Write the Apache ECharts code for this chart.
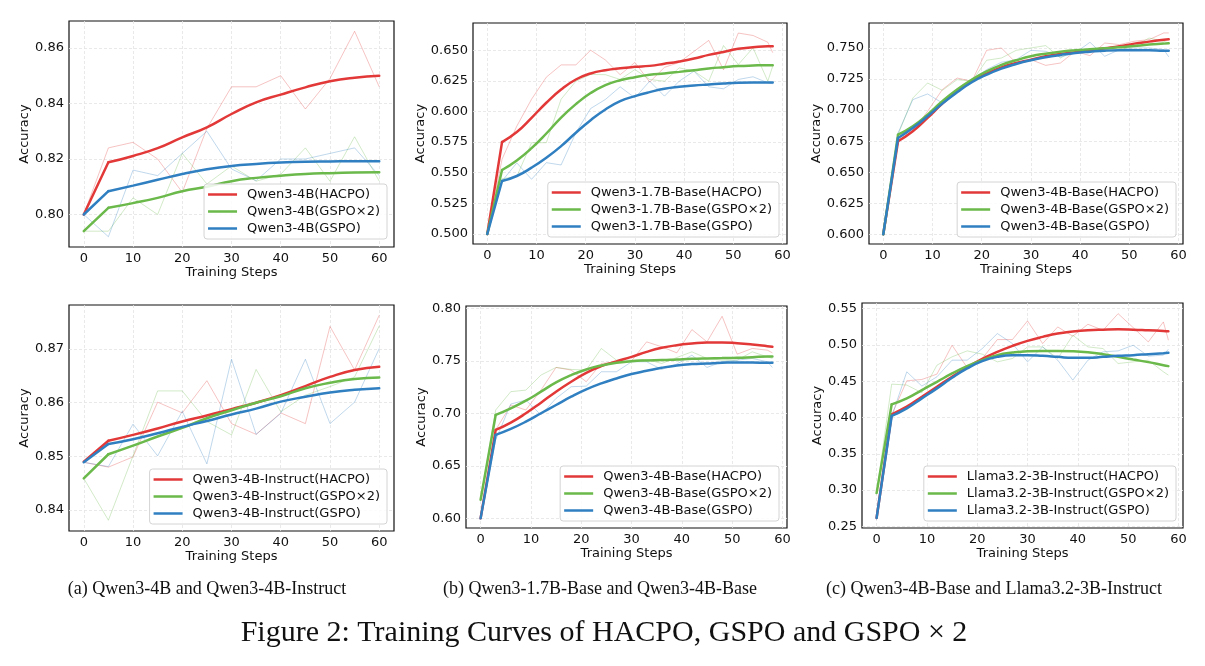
<!DOCTYPE html>
<html>
<head>
<meta charset="utf-8">
<script src="https://cdn.jsdelivr.net/npm/echarts@6/dist/echarts.min.js"></script>
<style>
  html, body { margin: 0; background: #fff; }
  #chart { width: 1205px; height: 666px; }
</style>
</head>
<body>
<div id="chart"></div>
<script>
// ---- x steps ----
const stepsBy5 = [0, 5, 10, 15, 20, 25, 30, 35, 40, 45, 50, 55, 60];
const stepsBy3 = [0, 3, 6, 9, 12, 15, 18, 21, 24, 27, 30, 33, 36, 39, 42, 45, 48, 51, 54, 57, 58];
const xTicks = [0, 10, 20, 30, 40, 50, 60];

// ---- (a) top: Qwen3-4B ----
const a1HacpoRaw = [0.800, 0.824, 0.826, 0.820, 0.808, 0.831, 0.846, 0.846, 0.850, 0.838, 0.849, 0.866, 0.846];
const a1HacpoSmooth = [0.800, 0.8188, 0.8211, 0.8239, 0.8278, 0.8314, 0.8362, 0.8404, 0.8432, 0.8458, 0.8480, 0.8493, 0.8500];
const a1Gspo2Raw = [0.794, 0.794, 0.806, 0.800, 0.822, 0.811, 0.8175, 0.812, 0.8145, 0.824, 0.812, 0.828, 0.812];
const a1Gspo2Smooth = [0.794, 0.8024, 0.8041, 0.8060, 0.8084, 0.8100, 0.8120, 0.8132, 0.8140, 0.8146, 0.8149, 0.8151, 0.8152];
const a1GspoRaw = [0.800, 0.792, 0.816, 0.814, 0.822, 0.830, 0.8164, 0.8122, 0.820, 0.820, 0.822, 0.824, 0.814];
const a1GspoSmooth = [0.800, 0.8084, 0.8104, 0.8125, 0.8146, 0.8163, 0.8175, 0.8182, 0.8187, 0.8190, 0.8191, 0.8192, 0.8192];
const a1YTicks = [0.80, 0.82, 0.84, 0.86];

// ---- (b) top: Qwen3-1.7B-Base ----
const b1HacpoRaw = [0.500, 0.561, 0.588, 0.610, 0.628, 0.638, 0.638, 0.650, 0.642, 0.630, 0.640, 0.624, 0.636, 0.640, 0.649, 0.658, 0.634, 0.664, 0.662, 0.6565, 0.648];
const b1HacpoSmooth = [0.500, 0.575, 0.5832, 0.5948, 0.6071, 0.6179, 0.6261, 0.631, 0.6337, 0.6353, 0.6364, 0.6372, 0.6389, 0.6408, 0.6432, 0.6462, 0.6486, 0.6511, 0.6524, 0.6533, 0.6533];
const b1Gspo2Raw = [0.500, 0.545, 0.547, 0.5745, 0.5745, 0.610, 0.6247, 0.6302, 0.630, 0.6261, 0.6342, 0.6261, 0.6247, 0.6356, 0.6329, 0.6247, 0.6538, 0.6383, 0.6519, 0.6247, 0.637];
const b1Gspo2Smooth = [0.500, 0.5522, 0.5600, 0.5700, 0.5820, 0.5950, 0.6060, 0.6150, 0.6215, 0.6255, 0.6280, 0.6299, 0.6310, 0.6323, 0.6337, 0.6351, 0.6361, 0.6370, 0.6375, 0.6378, 0.6378];
const b1GspoRaw = [0.500, 0.5432, 0.558, 0.5446, 0.5582, 0.5563, 0.5826, 0.6024, 0.6098, 0.6201, 0.6111, 0.6247, 0.6125, 0.6247, 0.6329, 0.6201, 0.6185, 0.6261, 0.6283, 0.6234, 0.6226];
const b1GspoSmooth = [0.500, 0.5432, 0.5473, 0.5541, 0.5622, 0.5717, 0.5826, 0.5929, 0.6016, 0.6084, 0.6125, 0.6158, 0.6185, 0.6201, 0.6212, 0.6220, 0.6228, 0.6234, 0.6236, 0.6236, 0.6236];
const b1YTicks = [0.500, 0.525, 0.550, 0.575, 0.600, 0.625, 0.650];

// ---- (c) top: Qwen3-4B-Base ----
const c1HacpoRaw = [0.600, 0.6754, 0.6829, 0.699, 0.7165, 0.7258, 0.7232, 0.7481, 0.750, 0.7379, 0.7406, 0.736, 0.7379, 0.7473, 0.7438, 0.754, 0.7527, 0.7554, 0.7567, 0.7621, 0.7621];
const c1HacpoSmooth = [0.600, 0.6749, 0.6829, 0.6937, 0.7052, 0.7151, 0.7232, 0.7293, 0.7344, 0.7379, 0.7406, 0.7433, 0.7452, 0.7465, 0.7481, 0.7497, 0.7513, 0.7535, 0.7551, 0.7567, 0.757];
const c1Gspo2Raw = [0.600, 0.6802, 0.7097, 0.7218, 0.7159, 0.7245, 0.7232, 0.7401, 0.7419, 0.7481, 0.750, 0.7519, 0.7419, 0.7487, 0.7487, 0.7487, 0.7487, 0.7513, 0.758, 0.7554, 0.754];
const c1Gspo2Smooth = [0.600, 0.6802, 0.6869, 0.6963, 0.7071, 0.7165, 0.7245, 0.7312, 0.7363, 0.7401, 0.7433, 0.7454, 0.747, 0.7481, 0.7489, 0.7497, 0.7505, 0.7516, 0.7527, 0.7535, 0.7538];
const c1GspoRaw = [0.600, 0.6816, 0.7084, 0.713, 0.7057, 0.7165, 0.7245, 0.7326, 0.7385, 0.7406, 0.7481, 0.7473, 0.7428, 0.746, 0.7546, 0.7433, 0.7487, 0.750, 0.750, 0.7487, 0.7428];
const c1GspoSmooth = [0.600, 0.6775, 0.6856, 0.695, 0.7052, 0.7143, 0.7224, 0.7285, 0.7334, 0.7371, 0.7401, 0.7425, 0.7444, 0.746, 0.747, 0.7478, 0.7481, 0.7481, 0.7481, 0.7478, 0.7478];
const c1YTicks = [0.600, 0.625, 0.650, 0.675, 0.700, 0.725, 0.750];

// ---- (a) bottom: Qwen3-4B-Instruct ----
const a2HacpoRaw = [0.8489, 0.848, 0.8499, 0.8601, 0.8581, 0.8641, 0.8561, 0.8541, 0.8581, 0.8561, 0.8742, 0.8661, 0.8763];
const a2HacpoSmooth = [0.849, 0.8529, 0.854, 0.8552, 0.8565, 0.8576, 0.8588, 0.860, 0.8614, 0.8631, 0.8648, 0.8661, 0.8667];
const a2Gspo2Raw = [0.8459, 0.8381, 0.8501, 0.8622, 0.8622, 0.8565, 0.854, 0.8662, 0.8583, 0.8614, 0.863, 0.8648, 0.8743];
const a2Gspo2Smooth = [0.8459, 0.8504, 0.852, 0.8537, 0.8553, 0.8571, 0.8586, 0.860, 0.8612, 0.8627, 0.8637, 0.8644, 0.8647];
const a2GspoRaw = [0.8489, 0.8481, 0.856, 0.8501, 0.8584, 0.8486, 0.8681, 0.8541, 0.858, 0.8681, 0.8561, 0.8601, 0.8701];
const a2GspoSmooth = [0.8489, 0.8523, 0.8532, 0.8543, 0.8555, 0.8566, 0.8578, 0.8589, 0.8602, 0.8611, 0.8619, 0.8624, 0.8627];
const a2YTicks = [0.84, 0.85, 0.86, 0.87];

// ---- (b) bottom: Qwen3-4B-Base ----
const b2HacpoRaw = [0.600, 0.6843, 0.7081, 0.7033, 0.7223, 0.7439, 0.7414, 0.7303, 0.7477, 0.7493, 0.7502, 0.7683, 0.7636, 0.7578, 0.780, 0.7683, 0.7927, 0.7566, 0.762, 0.7604, 0.7578];
const b2HacpoSmooth = [0.600, 0.6843, 0.6913, 0.7002, 0.7103, 0.7208, 0.7303, 0.7388, 0.7452, 0.7497, 0.754, 0.7588, 0.7626, 0.7651, 0.7667, 0.7677, 0.7677, 0.767, 0.7658, 0.7642, 0.7636];
const b2Gspo2Raw = [0.6177, 0.7033, 0.7208, 0.7223, 0.7366, 0.7439, 0.742, 0.7414, 0.762, 0.7509, 0.7509, 0.7515, 0.7477, 0.7534, 0.7588, 0.7525, 0.7509, 0.7509, 0.7588, 0.754, 0.7525];
const b2Gspo2Smooth = [0.6177, 0.6986, 0.7049, 0.7122, 0.7208, 0.7296, 0.7366, 0.742, 0.7458, 0.7483, 0.7499, 0.7506, 0.7509, 0.7515, 0.7521, 0.7525, 0.7528, 0.7531, 0.7537, 0.7544, 0.7544];
const b2GspoRaw = [0.600, 0.6748, 0.709, 0.7128, 0.6986, 0.7144, 0.7255, 0.7261, 0.7398, 0.7398, 0.7493, 0.7493, 0.742, 0.7471, 0.7556, 0.7439, 0.7493, 0.7509, 0.7525, 0.7493, 0.7439];
const b2GspoSmooth = [0.600, 0.6796, 0.6853, 0.6922, 0.7002, 0.7081, 0.716, 0.723, 0.7287, 0.7334, 0.7376, 0.7407, 0.7436, 0.7458, 0.7471, 0.7477, 0.7483, 0.7487, 0.7487, 0.7483, 0.7483];
const b2YTicks = [0.60, 0.65, 0.70, 0.75, 0.80];

// ---- (c) bottom: Llama3.2-3B-Instruct ----
const c2HacpoRaw = [0.2615, 0.4034, 0.4506, 0.4524, 0.4598, 0.4996, 0.4689, 0.4813, 0.5074, 0.5074, 0.5331, 0.5019, 0.5248, 0.512, 0.5285, 0.5202, 0.5431, 0.5239, 0.5042, 0.5317, 0.5065];
const c2HacpoSmooth = [0.2615, 0.4044, 0.4149, 0.4286, 0.4424, 0.4561, 0.4689, 0.4808, 0.4905, 0.4987, 0.5056, 0.5111, 0.5157, 0.5184, 0.5202, 0.5211, 0.5216, 0.5211, 0.5202, 0.5193, 0.5189];
const c2Gspo2Raw = [0.2958, 0.446, 0.4447, 0.4341, 0.4721, 0.4836, 0.4918, 0.4873, 0.4767, 0.4813, 0.4973, 0.4973, 0.4813, 0.5134, 0.4973, 0.495, 0.4744, 0.4767, 0.479, 0.463, 0.4584];
const c2Gspo2Smooth = [0.2958, 0.4181, 0.4263, 0.4378, 0.4492, 0.4607, 0.4708, 0.479, 0.4859, 0.4895, 0.4914, 0.4918, 0.4918, 0.4914, 0.49, 0.4873, 0.4836, 0.4799, 0.4763, 0.4721, 0.4708];
const c2GspoRaw = [0.2615, 0.4011, 0.463, 0.4433, 0.4561, 0.479, 0.479, 0.495, 0.5157, 0.5019, 0.4767, 0.4973, 0.479, 0.4515, 0.479, 0.4905, 0.4918, 0.4996, 0.4845, 0.4859, 0.4941];
const c2GspoSmooth = [0.2615, 0.4021, 0.4126, 0.4263, 0.4401, 0.4547, 0.4676, 0.4776, 0.4836, 0.4859, 0.4859, 0.485, 0.4836, 0.4822, 0.4822, 0.4836, 0.485, 0.4859, 0.4873, 0.4886, 0.4891];
const c2YTicks = [0.25, 0.30, 0.35, 0.40, 0.45, 0.50, 0.55];

const captions = [
  '(a) Qwen3-4B and Qwen3-4B-Instruct',
  '(b) Qwen3-1.7B-Base and Qwen3-4B-Base',
  '(c) Qwen3-4B-Base and Llama3.2-3B-Instruct'
];
const figureTitle = 'Figure 2: Training Curves of HACPO, GSPO and GSPO \u00d7 2';

const RED = '#e23838';
const GREEN = '#6ab94a';
const BLUE = '#2f7fc1';
const FONT = 'DejaVu Sans';

// 每个小图的布局
const panels = [
  {
    model: 'Qwen3-4B', steps: stepsBy5, yTicks: a1YTicks, dec: 2,
    grid: { left: 69, top: 21, width: 325, height: 226 },
    xMin: -3, xMax: 63, yMin: 0.7883, yMax: 0.8697, nameGap: 33,
    legend: { right: 818, bottom: 427 },
    lines: [[a1HacpoRaw, a1HacpoSmooth], [a1Gspo2Raw, a1Gspo2Smooth], [a1GspoRaw, a1GspoSmooth]]
  },
  {
    model: 'Qwen3-1.7B-Base', steps: stepsBy3, yTicks: b1YTicks, dec: 3,
    grid: { left: 473, top: 23, width: 314, height: 221 },
    xMin: -2.9, xMax: 60.9, yMin: 0.4918, yMax: 0.6722, nameGap: 40,
    legend: { right: 426, bottom: 429 },
    lines: [[b1HacpoRaw, b1HacpoSmooth], [b1Gspo2Raw, b1Gspo2Smooth], [b1GspoRaw, b1GspoSmooth]]
  },
  {
    model: 'Qwen3-4B-Base', steps: stepsBy3, yTicks: c1YTicks, dec: 3,
    grid: { left: 869, top: 23, width: 314, height: 221 },
    xMin: -2.9, xMax: 60.9, yMin: 0.5922, yMax: 0.7701, nameGap: 38,
    legend: { right: 29, bottom: 429 },
    lines: [[c1HacpoRaw, c1HacpoSmooth], [c1Gspo2Raw, c1Gspo2Smooth], [c1GspoRaw, c1GspoSmooth]]
  },
  {
    model: 'Qwen3-4B-Instruct', steps: stepsBy5, yTicks: a2YTicks, dec: 2,
    grid: { left: 69, top: 305, width: 325, height: 226 },
    xMin: -3, xMax: 63, yMin: 0.8361, yMax: 0.8782, nameGap: 33,
    legend: { right: 818, bottom: 142 },
    lines: [[a2HacpoRaw, a2HacpoSmooth], [a2Gspo2Raw, a2Gspo2Smooth], [a2GspoRaw, a2GspoSmooth]]
  },
  {
    model: 'Qwen3-4B-Base', steps: stepsBy3, yTicks: b2YTicks, dec: 2,
    grid: { left: 466, top: 306, width: 321, height: 222 },
    xMin: -2.9, xMax: 60.9, yMin: 0.5908, yMax: 0.8025, nameGap: 33,
    legend: { right: 426, bottom: 145 },
    lines: [[b2HacpoRaw, b2HacpoSmooth], [b2Gspo2Raw, b2Gspo2Smooth], [b2GspoRaw, b2GspoSmooth]]
  },
  {
    model: 'Llama3.2-3B-Instruct', steps: stepsBy3, yTicks: c2YTicks, dec: 2,
    grid: { left: 862, top: 303, width: 321, height: 225 },
    xMin: -2.9, xMax: 60.9, yMin: 0.2477, yMax: 0.5578, nameGap: 32,
    legend: { right: 29, bottom: 145 },
    lines: [[c2HacpoRaw, c2HacpoSmooth], [c2Gspo2Raw, c2Gspo2Smooth], [c2GspoRaw, c2GspoSmooth]]
  }
];

const methods = ['HACPO', 'GSPO\u00d72', 'GSPO'];
const colors = [RED, GREEN, BLUE];

const grids = [], xAxes = [], yAxes = [], legends = [], series = [];

panels.forEach((p, i) => {
  grids.push(Object.assign({
    show: true, borderColor: '#111', borderWidth: 1.2, backgroundColor: '#fff'
  }, p.grid));

  xAxes.push({
    type: 'value', gridIndex: i, min: p.xMin, max: p.xMax,
    name: 'Training Steps', nameLocation: 'middle', nameGap: 17,
    nameTextStyle: { fontFamily: FONT, fontSize: 13, color: '#111' },
    axisLine: { show: false },
    axisTick: { show: false, customValues: xTicks },
    axisLabel: { customValues: xTicks, fontFamily: FONT, fontSize: 13, color: '#111', margin: 5 },
    splitLine: { show: true, lineStyle: { color: '#e3e3e3', width: 0.8, type: [3, 2] } }
  });

  yAxes.push({
    type: 'value', gridIndex: i, min: p.yMin, max: p.yMax,
    name: 'Accuracy', nameLocation: 'middle', nameGap: p.nameGap,
    nameTextStyle: { fontFamily: FONT, fontSize: 13, color: '#111' },
    axisLine: { show: false },
    axisTick: { show: false, customValues: p.yTicks },
    axisLabel: {
      customValues: p.yTicks, fontFamily: FONT, fontSize: 13, color: '#111', margin: 5,
      formatter: v => v.toFixed(p.dec)
    },
    splitLine: { show: true, lineStyle: { color: '#e3e3e3', width: 0.8, type: [3, 2] } }
  });

  const names = methods.map(m => p.model + '(' + m + ')');

  legends.push({
    data: names, orient: 'vertical',
    right: p.legend.right, bottom: p.legend.bottom,
    icon: 'rect', itemWidth: 29, itemHeight: 2.5, itemGap: 4,
    padding: [4, 7, 4, 4],
    backgroundColor: 'rgba(255,255,255,0.85)',
    borderColor: '#d4d4d4', borderWidth: 1, borderRadius: 3,
    textStyle: { fontFamily: FONT, fontSize: 13, color: '#111', padding: [0, 0, 0, 5] },
    selectedMode: false
  });

  p.lines.forEach((pair, k) => {
    const raw = pair[0];
    series.push({
      type: 'line', name: names[k] + ' raw', xAxisIndex: i, yAxisIndex: i,
      data: p.steps.map((s, j) => [s, raw[j]]),
      showSymbol: false, symbol: 'none', silent: true, z: 2,
      itemStyle: { color: colors[k] },
      lineStyle: { color: colors[k], width: 1, opacity: 0.3 }
    });
  });
  p.lines.forEach((pair, k) => {
    const pts = p.steps.map((s, j) => [s, pair[1][j]]);
    // 第一段是直线（有折角），后面是平滑曲线
    series.push({
      type: 'line', name: names[k], xAxisIndex: i, yAxisIndex: i,
      data: pts.slice(0, 2),
      showSymbol: false, symbol: 'none', z: 3,
      itemStyle: { color: colors[k] },
      lineStyle: { color: colors[k], width: 2.5, cap: 'round' }
    });
    series.push({
      type: 'line', name: names[k], xAxisIndex: i, yAxisIndex: i,
      data: pts.slice(1),
      showSymbol: false, symbol: 'none', z: 3,
      smooth: 0.5,
      itemStyle: { color: colors[k] },
      lineStyle: { color: colors[k], width: 2.5, cap: 'round' }
    });
  });
});

const captionX = [207, 600, 994];
const graphics = captions.map((t, i) => ({
  type: 'text', x: captionX[i], y: 589,
  style: {
    text: t, fill: '#111', align: 'center', verticalAlign: 'middle',
    font: '18px "Liberation Serif"'
  }
}));
graphics.push({
  type: 'text', x: 604, y: 633,
  style: {
    text: figureTitle, fill: '#111', align: 'center', verticalAlign: 'middle',
    font: '30px "Liberation Serif"'
  }
});

const chart = echarts.init(document.getElementById('chart'), null, { renderer: 'canvas' });
chart.setOption({
  animation: false,
  backgroundColor: '#fff',
  grid: grids,
  xAxis: xAxes,
  yAxis: yAxes,
  legend: legends,
  series: series,
  graphic: graphics
});
</script>
</body>
</html>
